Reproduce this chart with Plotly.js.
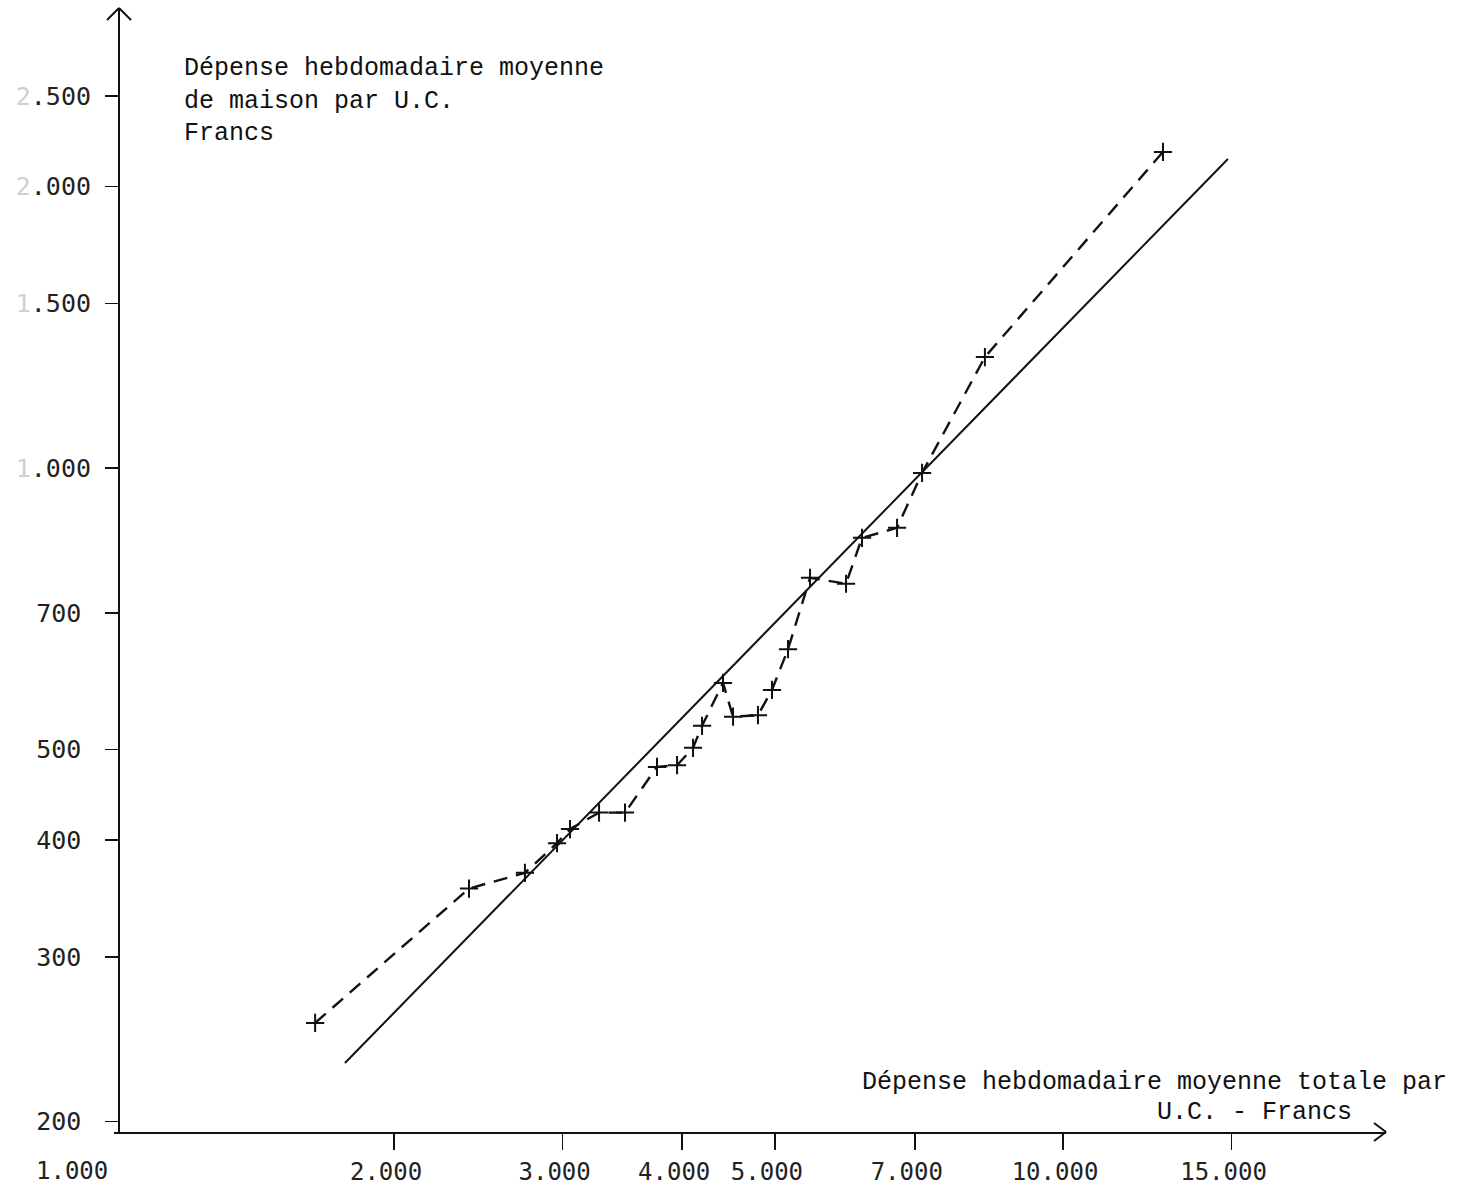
<!DOCTYPE html>
<html>
<head>
<meta charset="utf-8">
<script src="https://cdn.plot.ly/plotly-3.0.1.min.js"></script>
<style>
  html, body { margin: 0; padding: 0; background: #ffffff; }
  #graphique { width: 1465px; height: 1190px; }
</style>
</head>
<body>
<div id="graphique"></div>
<script>
// Dépense totale par U.C. (francs) et dépense de maison par U.C. (francs)
const depenseTotale = [1654, 2395, 2740, 2960, 3054, 3275, 3486, 3765, 3951, 4106, 4196, 4413,
                       4521, 4800, 4965, 5160, 5441, 5933, 6166, 6708, 7124, 8287, 12720];
const depenseMaison = [255, 355, 369, 397, 411, 428, 428, 479, 481, 502, 530, 589,
                       542, 544, 579, 640, 763, 752, 842, 863, 988, 1314, 2178];

// Droite d'ajustement (extrémités)
const ajusteX = [1777, 14870];
const ajusteY = [231, 2140];

// Graduations (1.000 = origine de l'axe horizontal)
const xTickVals = [1000, 2000, 3000, 4000, 5000, 7000, 10000, 15000];
const xTickText = ['1.000', '2.000', '3.000', '4.000', '5.000', '7.000', '10.000', '15.000'];
const yTickVals = [200, 300, 400, 500, 700, 1000, 1500, 2000, 2500];
const yTickText = ['200', '300', '400', '500', '700', '1.000', '1.500', '2.000', '2.500'];

const W = 1465, H = 1190;
const M = { l: 100, r: 60, t: 8, b: 58 };
const plotW = W - M.l - M.r, plotH = H - M.t - M.b;
const fx = px => (px - M.l) / plotW;
const fy = py => (H - M.b - py) / plotH;

// échelle horizontale : 957 px par décade, 1.000 à x = 106 px
const PX_DECADE = 957, X_ORIGINE = 106;
const xLog = px => 3 + (px - X_ORIGINE) / PX_DECADE;

const pad = '<span style="font-size:16px">\u00a0</span>';
const yLabels = yTickText.map(t => t.indexOf('.') > 0
  ? '<span style="color:#d0d0d0">' + t.charAt(0) + '</span>' + t.slice(1)
  : t + pad);

const encre = '#111111';

const traces = [
  {
    x: ajusteX, y: ajusteY,
    type: 'scatter', mode: 'lines',
    line: { color: encre, width: 2 },
    hoverinfo: 'skip'
  },
  {
    x: depenseTotale, y: depenseMaison,
    type: 'scatter', mode: 'lines+markers',
    line: { color: encre, width: 2.4, dash: '14px,9px' },
    marker: { symbol: 'cross-thin', size: 13, line: { color: encre, width: 2 } }
  }
];

function trait(x0, y0, x1, y1) {
  return { type: 'line', xref: 'paper', yref: 'paper',
           x0: fx(x0), y0: fy(y0), x1: fx(x1), y1: fy(y1),
           line: { color: encre, width: 2 } };
}

const texteFont = { family: 'Liberation Mono', size: 25, color: encre };

const layout = {
  width: W, height: H,
  margin: M,
  paper_bgcolor: '#ffffff',
  plot_bgcolor: '#ffffff',
  showlegend: false,
  xaxis: {
    type: 'log',
    domain: [fx(114), fx(1386)],
    range: [xLog(114), xLog(1386)],
    showline: true, linecolor: encre, linewidth: 2,
    ticks: 'outside', ticklen: 16, tickwidth: 1.6, tickcolor: encre,
    tickvals: xTickVals.slice(1), ticktext: xTickText.slice(1),
    tickfont: { family: 'DejaVu Sans Mono', size: 24, color: '#222222' },
    ticklabelshift: -8, ticklabelstandoff: 1,
    showgrid: false, zeroline: false, anchor: 'y'
  },
  yaxis: {
    type: 'log',
    domain: [0, 1],
    range: [2.28984, 3.49198],
    anchor: 'free', position: fx(119),
    showline: true, linecolor: encre, linewidth: 2,
    ticks: 'outside', ticklen: 13, tickwidth: 1.6, tickcolor: encre,
    tickvals: yTickVals, ticktext: yLabels,
    tickfont: { family: 'DejaVu Sans Mono', size: 25, color: '#222222' },
    ticklabelstandoff: 9,
    showgrid: false, zeroline: false
  },
  shapes: [
    // flèche de l'axe vertical
    trait(107, 20, 119, 8), trait(119, 8, 131, 20),
    // flèche de l'axe horizontal
    trait(1374, 1123, 1386, 1132), trait(1386, 1132, 1374, 1141)
  ],
  annotations: [
    {
      // libellé de l'origine de l'axe horizontal
      xref: 'paper', yref: 'paper', x: fx(72), y: fy(1171),
      xanchor: 'center', yanchor: 'middle', showarrow: false,
      text: xTickText[0],
      font: { family: 'DejaVu Sans Mono', size: 24, color: '#222222' }
    },
    {
      xref: 'paper', yref: 'paper', x: fx(182), y: fy(52),
      xanchor: 'left', yanchor: 'top', align: 'left', showarrow: false,
      text: 'Dépense hebdomadaire moyenne<br>de maison par U.C.<br>Francs',
      font: texteFont
    },
    {
      xref: 'paper', yref: 'paper', x: fx(860), y: fy(1082),
      xanchor: 'left', yanchor: 'middle', align: 'left', showarrow: false,
      text: 'Dépense hebdomadaire moyenne totale par',
      font: texteFont
    },
    {
      xref: 'paper', yref: 'paper', x: fx(1155), y: fy(1112),
      xanchor: 'left', yanchor: 'middle', align: 'left', showarrow: false,
      text: 'U.C. - Francs',
      font: texteFont
    }
  ]
};

Plotly.newPlot('graphique', traces, layout, { staticPlot: true, displayModeBar: false });
</script>
</body>
</html>
